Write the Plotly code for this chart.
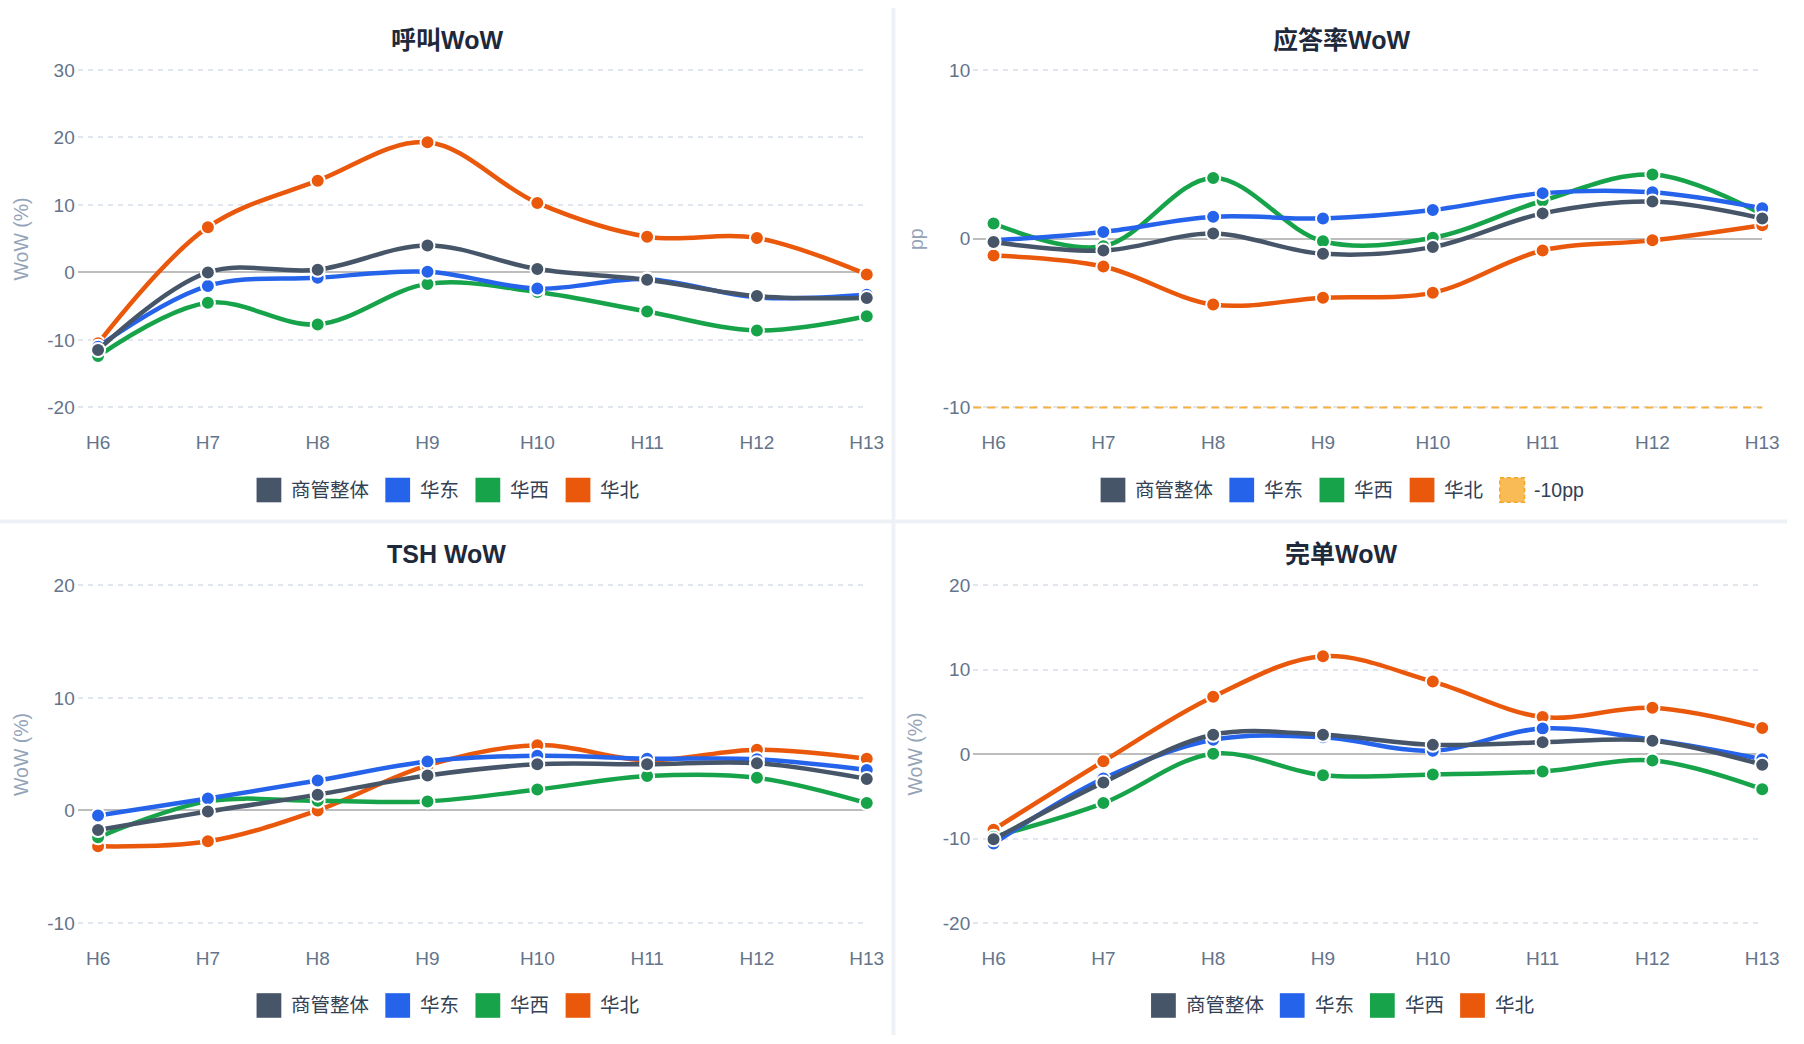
import plotly.graph_objects as go

W, H = 1804, 1044

# ---------------- data ----------------
hours = ["H6", "H7", "H8", "H9", "H10", "H11", "H12", "H13"]
series_names = ["商管整体", "华东", "华西", "华北"]
series_colors = ["#475569", "#2563eb", "#16a34a", "#ea580c"]

# 呼叫WoW (%)
call_overall = [-11.5, 0.0, 0.4, 4.0, 0.5, -1.1, -3.5, -3.8]
call_east = [-11.0, -2.0, -0.8, 0.1, -2.4, -1.0, -3.7, -3.3]
call_west = [-12.4, -4.5, -7.7, -1.7, -2.9, -5.8, -8.6, -6.5]
call_north = [-10.5, 6.7, 13.6, 19.3, 10.3, 5.3, 5.1, -0.3]

# 应答率WoW (pp)
ans_overall = [-0.2, -0.7, 0.3, -0.9, -0.5, 1.5, 2.2, 1.2]
ans_east = [-0.1, 0.4, 1.3, 1.2, 1.7, 2.7, 2.75, 1.8]
ans_west = [0.9, -0.45, 3.6, -0.15, 0.05, 2.25, 3.8, 1.45]
ans_north = [-1.0, -1.65, -3.9, -3.5, -3.2, -0.7, -0.1, 0.8]
ans_threshold = -10
ans_threshold_name = "-10pp"

# TSH WoW (%)
tsh_overall = [-1.75, -0.1, 1.4, 3.1, 4.1, 4.1, 4.2, 2.8]
tsh_east = [-0.45, 1.05, 2.65, 4.35, 4.85, 4.6, 4.55, 3.6]
tsh_west = [-2.4, 0.8, 0.85, 0.8, 1.85, 3.05, 2.9, 0.65]
tsh_north = [-3.2, -2.75, 0.0, 4.0, 5.8, 4.45, 5.4, 4.6]

# 完单WoW (%)
done_overall = [-10.1, -3.35, 2.3, 2.3, 1.1, 1.4, 1.6, -1.25]
done_east = [-10.6, -2.9, 1.7, 2.0, 0.4, 3.05, 1.7, -0.6]
done_west = [-9.8, -5.8, 0.05, -2.5, -2.4, -2.05, -0.75, -4.15]
done_north = [-8.95, -0.85, 6.8, 11.6, 8.6, 4.4, 5.5, 3.1]

panel_titles = ["呼叫WoW", "应答率WoW", "TSH WoW", "完单WoW"]
panel_ytitles = ["WoW (%)", "pp", "WoW (%)", "WoW (%)"]
panel_yticks = [[-20, -10, 0, 10, 20, 30], [-10, 0, 10], [-10, 0, 10, 20], [-20, -10, 0, 10, 20]]
panel_data = [
    [call_overall, call_east, call_west, call_north],
    [ans_overall, ans_east, ans_west, ans_north],
    [tsh_overall, tsh_east, tsh_west, tsh_north],
    [done_overall, done_east, done_west, done_north],
]

# ---------------- layout helpers (pixels -> paper) ----------------
FONT = "Liberation Sans, Arial, Noto Sans CJK SC, sans-serif"
TICK_COLOR = "#64748b"
YTITLE_COLOR = "#94a3b8"
TITLE_COLOR = "#1e293b"
LEGEND_TEXT = "#334155"
GRID_COLOR = "#e1e6ee"
DIVIDER = "#eef2f7"


def px(p):
    return p / W


def py(p):
    return 1 - p / H


SPACING = 776 / 7.0
LEFT_PAD = 0.185
EDGE = 2.0  # px of padding so edge gridlines are drawn
panel_geo = [
    dict(h6=99, top=63, bot=406, cx=451, ty=33, ly=490, yt=21),
    dict(h6=1003, top=63, bot=406, cx=1354, ty=33, ly=490, yt=924),
    dict(h6=99, top=587, bot=930, cx=451, ty=555, ly=1014, yt=21),
    dict(h6=1003, top=587, bot=930, cx=1354, ty=555, ly=1014, yt=924),
]

fig = go.Figure()
layout = dict(
    autosize=True,
    margin=dict(l=0, r=0, t=0, b=0, pad=0),
    paper_bgcolor="white", plot_bgcolor="white",
    showlegend=False,
    font=dict(family=FONT, size=19, color=TICK_COLOR),
)
annotations = []
shapes = []

# panel dividers
shapes.append(dict(type="rect", xref="paper", yref="paper", x0=px(900), x1=px(904), y0=0, y1=1,
                   fillcolor=DIVIDER, line=dict(width=0), layer="below"))
shapes.append(dict(type="rect", xref="paper", yref="paper", x0=0, x1=1, y0=py(524), y1=py(520),
                   fillcolor=DIVIDER, line=dict(width=0), layer="below"))


def text_width(s, size):
    w = 0.0
    for ch in s:
        if ord(ch) > 0x2E80:
            w += 1.0
        elif ch in "-":
            w += 0.333
        else:
            w += 0.556
    return w * size


for i, geo in enumerate(panel_geo):
    n = "" if i == 0 else str(i + 1)
    xa, ya = "x" + n, "y" + n
    yt = panel_yticks[i]
    x0 = geo["h6"] - LEFT_PAD * SPACING
    x1 = geo["h6"] + 7 * SPACING
    unit = (yt[-1] - yt[0]) / (geo["bot"] - geo["top"])
    layout["xaxis" + n] = dict(
        domain=[px(x0), px(x1)], anchor=ya, type="category",
        categoryorder="array", categoryarray=hours,
        range=[-LEFT_PAD, 7], showgrid=False, zeroline=False, showline=False,
        ticks="", ticklabelstandoff=20, tickfont=dict(size=19, color=TICK_COLOR),
        fixedrange=True,
    )
    layout["yaxis" + n] = dict(
        domain=[py(geo["bot"] + EDGE), py(geo["top"] - EDGE)], anchor=xa,
        range=[yt[0] - EDGE * unit, yt[-1] + EDGE * unit],
        tickvals=yt, ticktext=[str(v) for v in yt],
        showgrid=True, gridcolor=GRID_COLOR,
        gridwidth=1.5, griddash="5px,5px", zeroline=True, zerolinecolor="#bdbdbd",
        zerolinewidth=2, showline=False, ticks="", ticklabelstandoff=2,
        tickfont=dict(size=19, color=TICK_COLOR), fixedrange=True,
    )

    # threshold line for answer rate panel
    if i == 1:
        shapes.append(dict(type="line", xref=xa + " domain", yref=ya, x0=0, x1=1,
                           y0=ans_threshold, y1=ans_threshold,
                           line=dict(color="#f5b042", width=2, dash="8px,6px")))

    # series (draw overall last so it sits on top)
    for k in [3, 2, 1, 0]:
        fig.add_trace(go.Scatter(
            x=hours, y=panel_data[i][k], name=series_names[k], xaxis=xa, yaxis=ya,
            mode="lines+markers",
            line=dict(color=series_colors[k], width=4.5, shape="spline", smoothing=1.0),
            marker=dict(size=14, color=series_colors[k], line=dict(color="white", width=2)),
            cliponaxis=False, hoverinfo="x+y+name",
        ))

    # panel title
    annotations.append(dict(text="<b>" + panel_titles[i] + "</b>", xref="paper", yref="paper",
                            x=px(geo["cx"]), y=py(geo["ty"]), xanchor="center", yanchor="middle",
                            showarrow=False, font=dict(size=25, color=TITLE_COLOR, family=FONT)))
    # y-axis title
    annotations.append(dict(text=panel_ytitles[i], xref="paper", yref="paper",
                            x=px(geo["yt"]), y=py((geo["top"] + geo["bot"]) / 2),
                            xanchor="center", yanchor="middle", textangle=-90, showarrow=False,
                            font=dict(size=19.5, color=YTITLE_COLOR, family=FONT)))

    # legend (manual, square swatches)
    items = [(series_names[k], series_colors[k], None) for k in range(4)]
    if i == 1:
        items.append((ans_threshold_name, "#f8bb55", "#f5a623"))
    ICON, GAP1, GAP2, LFS = 25, 8, 19, 19.5
    total = sum(ICON + GAP1 + text_width(t, LFS) for t, _, _ in items) + GAP2 * (len(items) - 1)
    xcur = geo["cx"] - total / 2
    for t, c, border in items:
        shapes.append(dict(type="rect", xref="paper", yref="paper",
                           x0=px(xcur), x1=px(xcur + ICON),
                           y0=py(geo["ly"] + ICON / 2), y1=py(geo["ly"] - ICON / 2),
                           fillcolor=c,
                           line=dict(width=1.5 if border else 0, color=border or c,
                                     dash="4px,3px" if border else "solid")))
        annotations.append(dict(text=t, xref="paper", yref="paper",
                                x=px(xcur + ICON + GAP1), y=py(geo["ly"]),
                                xanchor="left", yanchor="middle", showarrow=False,
                                font=dict(size=LFS, color=LEGEND_TEXT, family=FONT)))
        xcur += ICON + GAP1 + text_width(t, LFS) + GAP2

layout["annotations"] = annotations
layout["shapes"] = shapes
fig.update_layout(**layout)

fig.write_html(
    "out.html",
    config={"displayModeBar": False, "responsive": True},
    default_width="100vw", default_height="100vh",
    post_script=(
        "document.documentElement.style.margin='0';"
        "document.body.style.margin='0';"
        "document.body.style.overflow='hidden';"
        "Plotly.Plots.resize(document.getElementById('{plot_id}'));"
    ),
)
